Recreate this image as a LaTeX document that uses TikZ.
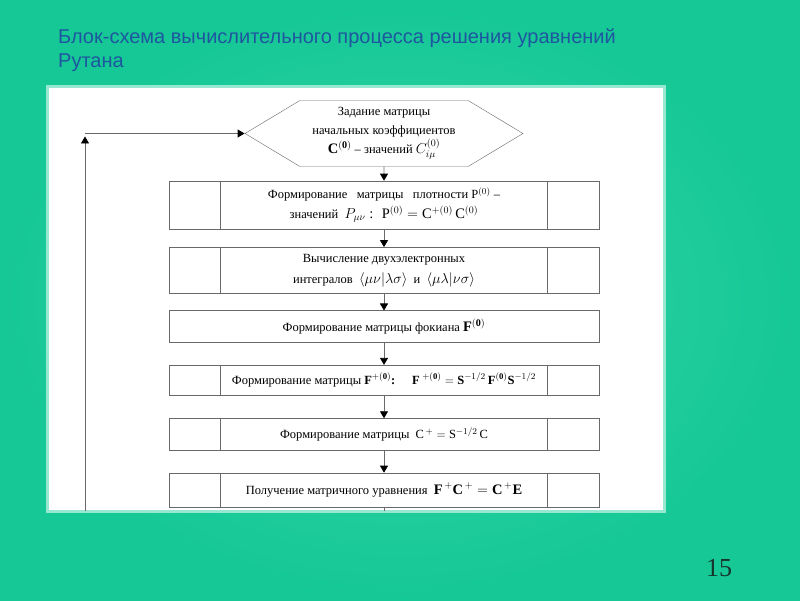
\documentclass[tikz,border=0pt]{standalone}
\usepackage{fontspec}
\setmainfont{Liberation Serif}
\newfontfamily\titlefont{Liberation Sans}
\usepackage{amsmath}
\usetikzlibrary{shapes.symbols, arrows.meta, positioning, calc}
\definecolor{slidegreen}{RGB}{22,200,150}
\definecolor{slidelight}{RGB}{52,210,168}
\definecolor{panelrim}{RGB}{150,232,208}
\definecolor{titleblue}{RGB}{30,86,160}
\definecolor{linegray}{RGB}{105,105,105}
\definecolor{pagenum}{RGB}{22,52,44}
\newcommand{\formsize}{\fontsize{14.5}{19}\selectfont}

\begin{document}
\begin{tikzpicture}[
    x=1pt, y=1pt,
    node distance=18pt,
    hexnode/.style={draw=linegray, signal, signal to=west and east,
                    signal pointer angle=62, fill=white,
                    minimum width=278pt, minimum height=66pt,
                    inner sep=1pt, font=\fontsize{12.5}{18.5}\selectfont,
                    align=center},
    procbox/.style={draw=linegray, rectangle, fill=white,
                    minimum width=430pt, inner sep=1pt,
                    font=\fontsize{12.5}{19}\selectfont, align=center},
    titletext/.style={anchor=base west, inner sep=0pt, text=titleblue,
                      font=\titlefont\fontsize{20}{24}\selectfont},
    arr/.style={-{Triangle[length=7pt, width=8pt, color=black]},
                line width=0.8pt, color=linegray},
    plain/.style={line width=0.8pt, color=linegray},
]
    % slide background and white panel
    \shade[inner color=slidelight, outer color=slidegreen] (0,0) rectangle (800,600);
    \draw[draw=panelrim, line width=3pt, fill=white] (47,89) rectangle (664,513);
    \useasboundingbox (0,0) rectangle (800,600);

    \node[titletext] (title1) at (58,556) {Блок-схема вычислительного процесса решения уравнений};
    \node[titletext] (title2) at (58,532) {Рутана};
    \node[anchor=base, text=pagenum, font=\fontsize{26}{30}\selectfont] (page) at (719,24) {15};

    % flowchart
    \node[hexnode] (hex) at (384,466.5) {Задание матрицы\\начальных коэффициентов\\[1pt]
        {\formsize$\mathbf{C}^{(\mathbf{0})}$} -- значений {\formsize$C_{i\mu}^{(0)}$}};
    \node[procbox, minimum height=48pt, below=14pt of hex] (b1)
        {Формирование \ \ матрицы \ \ плотности P$^{(0)}$ --\\[1pt]
         значений \ {\formsize$P_{\mu\nu}$ : \ $\mathrm{P}^{(0)}=\mathrm{C}^{+(0)}\,\mathrm{C}^{(0)}$}};
    \node[procbox, minimum height=46pt, below=18pt of b1] (b2)
        {Вычисление двухэлектронных\\[2pt]
         интегралов \ {\formsize$\langle\mu\nu|\lambda\sigma\rangle$} \ и \
         {\formsize$\langle\mu\lambda|\nu\sigma\rangle$}};
    \node[procbox, minimum height=32pt, below=17pt of b2] (b3)
        {Формирование матрицы фокиана {\formsize$\mathbf{F}^{(\mathbf{0})}$}};
    \node[procbox, minimum height=30pt, below=22pt of b3] (b4)
        {Формирование матрицы $\mathbf{F}^{+(\mathbf{0})}$\textbf{:} \quad
         $\mathbf{F}^{\;+(\mathbf{0})}=\mathbf{S}^{-1/2}\,\mathbf{F}^{(\mathbf{0})}\mathbf{S}^{-1/2}$};
    \node[procbox, minimum height=32pt, below=23pt of b4] (b5)
        {Формирование матрицы \ $\mathrm{C}^{\,+}=\mathrm{S}^{-1/2}\,\mathrm{C}$};
    \node[procbox, minimum height=34pt, below=22pt of b5] (b6)
        {Получение матричного уравнения \
         {\formsize$\mathbf{F}^{\,+}\mathbf{C}^{\,+}=\mathbf{C}^{\,+}\mathbf{E}$}};

    % side cells
    \foreach \b in {b1,b2,b4,b5,b6} {
        \draw[plain] ([xshift=52pt]\b.north west) -- ([xshift=52pt]\b.south west);
        \draw[plain] ([xshift=-52pt]\b.north east) -- ([xshift=-52pt]\b.south east);
    }

    \coordinate (lb) at (85,89);
    \coordinate (lt) at (hex.west -| lb);

    \draw[arr] (hex) -- (b1);
    \draw[arr] (b1) -- (b2);
    \draw[arr] (b2) -- (b3);
    \draw[arr] (b3) -- (b4);
    \draw[arr] (b4) -- (b5);
    \draw[arr] (b5) -- (b6);
    \draw[plain] (b6.south) -- (b6.south |- lb);
    \draw[arr] (lb) -- ([yshift=-3pt]lt);
    \draw[arr] (lt) -- (hex.west);
\end{tikzpicture}
\end{document}
